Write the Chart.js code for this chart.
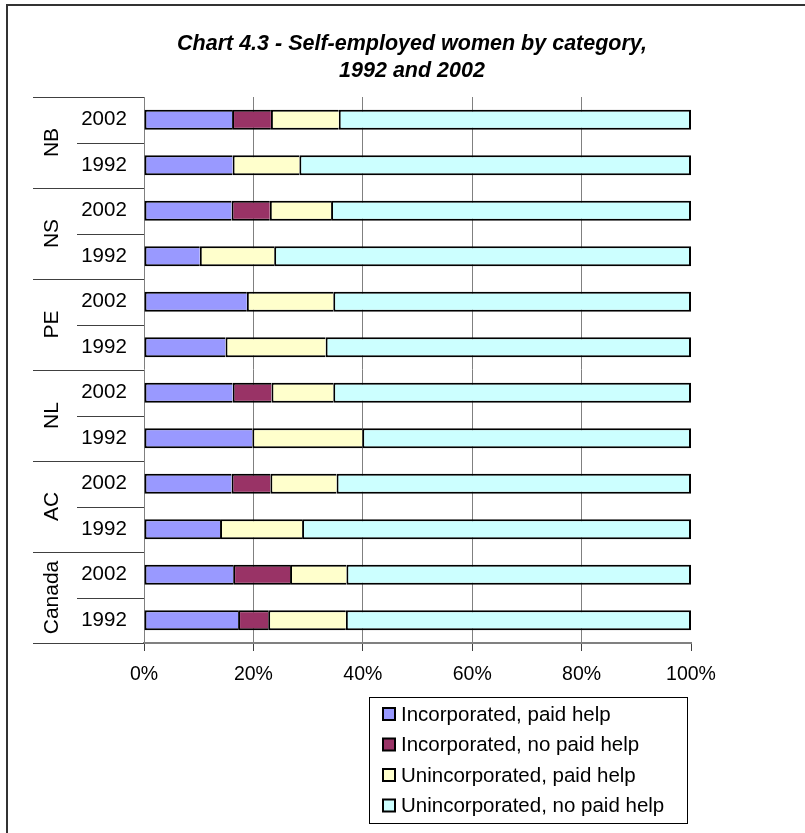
<!DOCTYPE html>
<html>
<head>
<meta charset="utf-8">
<script src="https://cdn.jsdelivr.net/npm/chart.js@4"></script>
<style>
  body { margin: 0; background: #fff; }
</style>
</head>
<body>
<canvas id="chart" width="805" height="833"></canvas>
<script>
const titleLines = ['Chart 4.3 - Self-employed women by category,', '1992 and 2002'];
const groups = ['NB', 'NS', 'PE', 'NL', 'AC', 'Canada'];
const years = ['2002', '1992'];
const categories = ['NB 2002', 'NB 1992', 'NS 2002', 'NS 1992', 'PE 2002', 'PE 1992',
  'NL 2002', 'NL 1992', 'AC 2002', 'AC 1992', 'Canada 2002', 'Canada 1992'];
const xTicks = [0, 20, 40, 60, 80, 100];

const seriesNames = ['Incorporated, paid help', 'Incorporated, no paid help',
  'Unincorporated, paid help', 'Unincorporated, no paid help'];
const seriesColors = ['#9999FF', '#993366', '#FFFFCC', '#CCFFFF'];

const incPaid = [16.1, 16.2, 16.0, 10.2, 18.8, 14.9, 16.2, 19.8, 16.0, 13.9, 16.3, 17.2];
const incNoPaid = [7.1, 0, 7.0, 0, 0, 0, 7.1, 0, 7.1, 0, 10.4, 5.5];
const unincPaid = [12.4, 12.2, 11.2, 13.6, 15.8, 18.3, 11.3, 20.1, 12.1, 15.0, 10.3, 14.2];
const unincNoPaid = [64.4, 71.6, 65.8, 76.2, 65.4, 66.8, 65.4, 60.1, 64.8, 71.1, 63.0, 63.1];

const series = [incPaid, incNoPaid, unincPaid, unincNoPaid];
const FONT = 'Arial, "Liberation Sans", sans-serif';

const datasets = series.map((vals, i) => ({
  label: seriesNames[i],
  data: vals.map(v => v || null),
  backgroundColor: seriesColors[i],
  borderColor: '#000',
  borderWidth: { top: 2, bottom: 2, left: 2, right: i === series.length - 1 ? 2 : 0 },
  borderSkipped: false,
  barPercentage: 0.44,
  categoryPercentage: 1
}));

// frame, title, two-level category labels and boxed legend
const decorations = {
  id: 'decorations',
  afterDraw(chart) {
    const ctx = chart.ctx;
    const area = chart.chartArea;
    const y = chart.scales.y;
    ctx.save();

    ctx.strokeStyle = '#333';
    ctx.lineWidth = 2;
    ctx.beginPath();
    ctx.moveTo(7, 833); ctx.lineTo(7, 5); ctx.lineTo(805, 5);
    ctx.stroke();

    ctx.fillStyle = '#000';
    ctx.font = 'italic bold 21.5px ' + FONT;
    ctx.textAlign = 'center';
    ctx.textBaseline = 'middle';
    titleLines.forEach((t, i) => ctx.fillText(t, 412, 44 + i * 27));

    const rowH = y.getPixelForValue(1) - y.getPixelForValue(0);
    ctx.strokeStyle = '#404040';
    ctx.lineWidth = 1;
    ctx.font = '20.5px ' + FONT;
    categories.forEach((c, i) => {
      const cy = y.getPixelForValue(i);
      const top = Math.round(cy - rowH / 2) + 0.5;
      const x0 = i % years.length === 0 ? 33 : 77;
      ctx.beginPath();
      ctx.moveTo(x0, top); ctx.lineTo(area.left, top);
      ctx.stroke();
      ctx.textAlign = 'center';
      ctx.fillText(c.split(' ')[1], 104, cy);
    });
    const bottom = Math.round(area.bottom) + 0.5;
    ctx.beginPath();
    ctx.moveTo(33, bottom); ctx.lineTo(area.left, bottom);
    ctx.stroke();

    ctx.font = '21px ' + FONT;
    groups.forEach((g, gi) => {
      const a = y.getPixelForValue(gi * years.length);
      const b = y.getPixelForValue(gi * years.length + years.length - 1);
      ctx.save();
      ctx.translate(51, (a + b) / 2);
      ctx.rotate(-Math.PI / 2);
      ctx.textAlign = 'center';
      ctx.fillText(g, 0, 1);
      ctx.restore();
    });

    // legend
    const lx = 369, ly = 697, lw = 318, lh = 126;
    ctx.fillStyle = '#fff';
    ctx.fillRect(lx, ly, lw, lh);
    ctx.strokeStyle = '#000';
    ctx.strokeRect(lx + 0.5, ly + 0.5, lw, lh);
    ctx.font = '20.5px ' + FONT;
    chart.data.datasets.forEach((ds, i) => {
      const ry = 714 + i * 30.5;
      ctx.fillStyle = ds.backgroundColor;
      ctx.fillRect(383, ry - 6, 12, 12);
      ctx.strokeStyle = '#000';
      ctx.lineWidth = 2;
      ctx.strokeRect(383, ry - 6, 12, 12);
      ctx.fillStyle = '#000';
      ctx.textAlign = 'left';
      ctx.fillText(ds.label, 401, ry + 1);
    });
    ctx.restore();
  }
};

new Chart(document.getElementById('chart'), {
  type: 'bar',
  data: { labels: categories, datasets: datasets },
  options: {
    indexAxis: 'y',
    responsive: false,
    animation: false,
    layout: { padding: { left: 144, right: 114, top: 97, bottom: 0 } },
    plugins: {
      legend: { display: false },
      title: { display: false },
      tooltip: { enabled: false }
    },
    scales: {
      y: { display: false, stacked: true },
      x: {
        stacked: true,
        min: 0,
        max: 100,
        afterFit(scale) { scale.height = 190; },
        afterBuildTicks(scale) { scale.ticks = xTicks.map(v => ({ value: v })); },
        ticks: {
          color: '#000',
          padding: 12,
          font: { family: FONT, size: 19.5 },
          callback: v => v + '%'
        },
        grid: {
          color: ctx => ctx.tick && ctx.tick.value === 100 ? 'rgba(0,0,0,0)' : '#808080',
          tickColor: '#404040',
          tickLength: 8,
          lineWidth: 1
        },
        border: { color: '#808080', width: 2 }
      }
    }
  },
  plugins: [decorations]
});
</script>
</body>
</html>
